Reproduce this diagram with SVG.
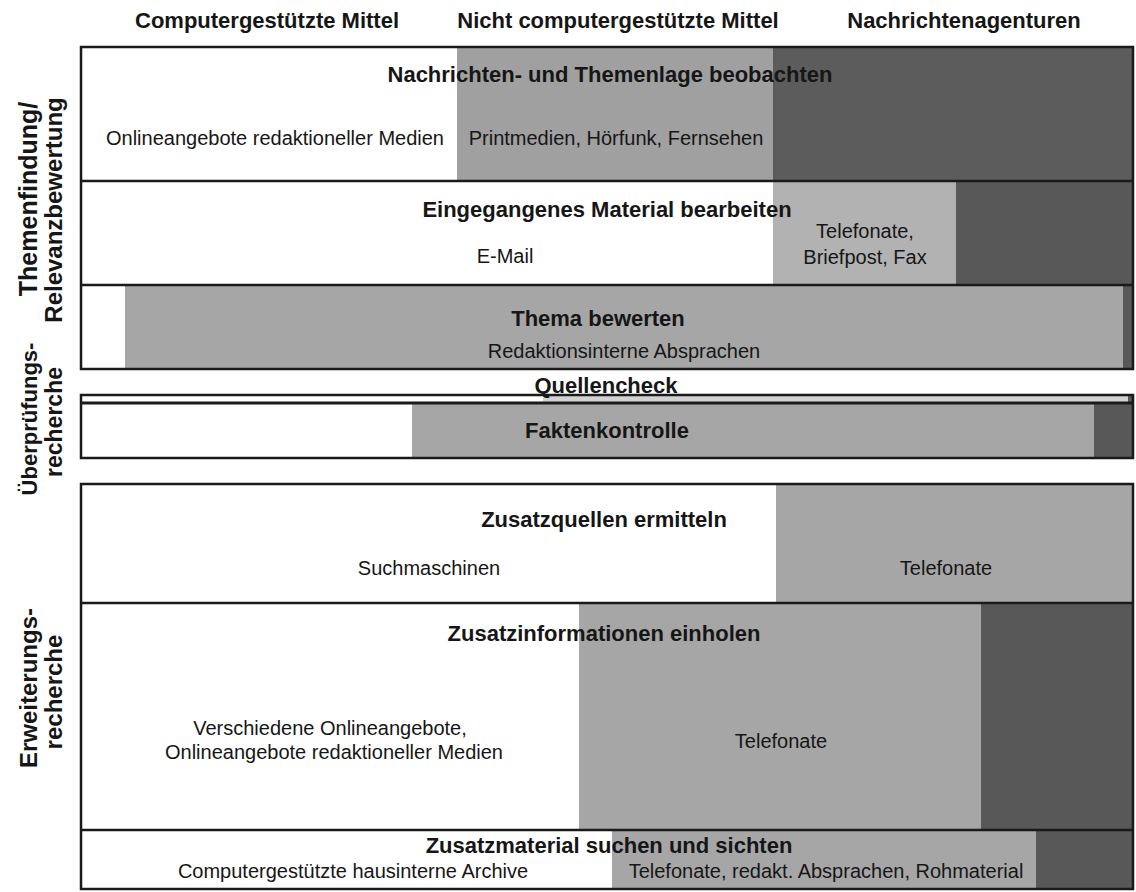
<svg xmlns="http://www.w3.org/2000/svg" width="1136" height="892" viewBox="0 0 1136 892">
<style>
.hdr{font-family:"Liberation Sans",Arial,Helvetica,sans-serif;font-weight:bold;font-size:22px;fill:#161616;text-anchor:middle}
.ttl{font-family:"Liberation Sans",Arial,Helvetica,sans-serif;font-weight:bold;font-size:22px;fill:#161616;text-anchor:middle}
.txt{font-family:"Liberation Sans",Arial,Helvetica,sans-serif;font-size:20px;fill:#161616;text-anchor:middle}
.side{font-family:"Liberation Sans",Arial,Helvetica,sans-serif;font-weight:bold;font-size:24px;fill:#161616;text-anchor:middle}
.white{fill:#ffffff}
.mid{fill:#a6a6a6}
.midl{fill:#b2b2b2}
.dark{fill:#585858}
.light{fill:#d2d2d2}
.frame{fill:none;stroke:#1a1a1a;stroke-width:2.5}
.div{stroke:#1a1a1a;stroke-width:2.5}
</style>
<rect x="0" y="0" width="1136" height="892" fill="#ffffff"/>

<g id="column-headers">
<text class="hdr" x="267" y="28">Computergestützte Mittel</text>
<text class="hdr" x="618" y="28">Nicht computergestützte Mittel</text>
<text class="hdr" x="964" y="28">Nachrichtenagenturen</text>
</g>

<g id="side-themenfindung">
<text class="side" style="font-size:25px" transform="translate(37,199) rotate(-90)">Themenfindung/</text>
<text class="side" transform="translate(62,210) rotate(-90)">Relevanzbewertung</text>
</g>
<g id="side-ueberpruefung">
<text class="side" style="font-size:22px" transform="translate(37,419) rotate(-90)">Überprüfungs-</text>
<text class="side" style="font-size:23px" transform="translate(62,422) rotate(-90)">recherche</text>
</g>
<g id="side-erweiterung">
<text class="side" transform="translate(37,688) rotate(-90)">Erweiterungs-</text>
<text class="side" transform="translate(62,692) rotate(-90)">recherche</text>
</g>

<g id="row-nachrichtenlage">
<rect class="mid" style="fill:#a0a0a0" x="457" y="47" width="316" height="134"/>
<rect class="dark" style="fill:#5c5c5c" x="773" y="47" width="360" height="134"/>
<text class="ttl" x="610" y="82">Nachrichten- und Themenlage beobachten</text>
<text class="txt" x="275" y="145">Onlineangebote redaktioneller Medien</text>
<text class="txt" x="616" y="145">Printmedien, Hörfunk, Fernsehen</text>
</g>

<g id="row-material">
<rect class="midl" x="773" y="181" width="183" height="104"/>
<rect class="dark" x="956" y="181" width="177" height="104"/>
<text class="ttl" x="607" y="217">Eingegangenes Material bearbeiten</text>
<text class="txt" x="505" y="263">E-Mail</text>
<text class="txt" x="865" y="238">Telefonate,</text>
<text class="txt" x="865" y="264">Briefpost, Fax</text>
</g>

<g id="row-thema">
<rect class="mid" x="125" y="285" width="998" height="84"/>
<rect class="dark" x="1123" y="285" width="10" height="84"/>
<text class="ttl" x="598" y="326">Thema bewerten</text>
<text class="txt" x="624" y="358">Redaktionsinterne Absprachen</text>
</g>

<g id="row-quellencheck">
<rect class="light" x="543" y="396" width="585" height="7"/>
<rect class="dark" x="1128" y="396" width="5" height="7"/>
<text class="ttl" x="606" y="393">Quellencheck</text>
</g>

<g id="row-faktenkontrolle">
<rect class="mid" x="412" y="403" width="682" height="55"/>
<rect class="dark" x="1094" y="403" width="39" height="55"/>
<text class="ttl" x="607" y="438">Faktenkontrolle</text>
</g>

<g id="row-zusatzquellen">
<rect class="mid" x="776" y="484" width="357" height="119"/>
<text class="ttl" x="604" y="527">Zusatzquellen ermitteln</text>
<text class="txt" x="429" y="575">Suchmaschinen</text>
<text class="txt" x="946" y="575">Telefonate</text>
</g>

<g id="row-zusatzinformationen">
<rect class="mid" x="579" y="603" width="402" height="227"/>
<rect class="dark" x="981" y="603" width="152" height="227"/>
<text class="ttl" x="604" y="641">Zusatzinformationen einholen</text>
<text class="txt" x="330" y="735">Verschiedene Onlineangebote,</text>
<text class="txt" x="334" y="759">Onlineangebote redaktioneller Medien</text>
<text class="txt" x="781" y="748">Telefonate</text>
</g>

<g id="row-zusatzmaterial">
<rect class="mid" x="612" y="830" width="424" height="60"/>
<rect class="dark" x="1036" y="830" width="97" height="60"/>
<text class="ttl" x="609" y="853">Zusatzmaterial suchen und sichten</text>
<text class="txt" x="353" y="878">Computergestützte hausinterne Archive</text>
<text class="txt" x="826" y="878">Telefonate, redakt. Absprachen, Rohmaterial</text>
</g>

<g id="connectors">
<rect class="frame" x="81" y="47" width="1052" height="322"/>
<line class="div" x1="81" y1="181" x2="1133" y2="181"/>
<line class="div" x1="81" y1="285" x2="1133" y2="285"/>
<rect class="frame" x="81" y="395" width="1052" height="63"/>
<line class="div" style="stroke-width:3" x1="81" y1="403" x2="1133" y2="403"/>
<rect class="frame" x="81" y="484" width="1052" height="405"/>
<line class="div" x1="81" y1="603" x2="1133" y2="603"/>
<line class="div" x1="81" y1="830" x2="1133" y2="830"/>
</g>
</svg>
